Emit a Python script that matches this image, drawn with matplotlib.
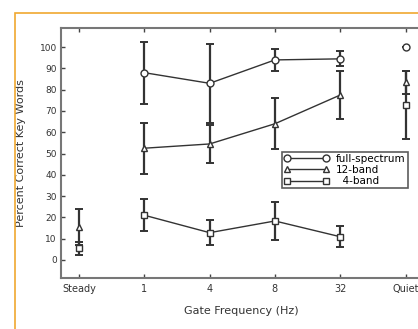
import numpy as np
import matplotlib
matplotlib.use("Agg")
import matplotlib.pyplot as plt
from matplotlib.patches import Rectangle

categories = ["Steady", "1", "4", "8", "32", "Quiet"]
full_mean = [np.nan, 88, 83, 94, 94.5, 100]
full_err = [np.nan, 14.5, 18.5, 5, 3.5, 0]
band12_mean = [15.6, 52.5, 54.5, 64, 77.5, 83.5]
band12_err = [8.5, 12, 9, 12, 11.5, 5.5]
band4_mean = [5.5, 21, 12.8, 18.3, 10.9, 73]
band4_err = [3, 7.5, 6, 9, 5, 16]
labels = ["full-spectrum", "12-band", "  4-band"]
markers = ["o", "^", "s"]

W, H = 418, 329
fig = plt.figure(figsize=(W / 100, H / 100), dpi=100)
ax = fig.add_axes([61 / W, (H - 278) / H, 361 / W, 250 / H])

col = "#333333"
x = np.arange(len(categories))
series = [(full_mean, full_err), (band12_mean, band12_err), (band4_mean, band4_err)]
handles = []
for (m, e), mk, lab in zip(series, markers, labels):
    m = np.array(m, float)
    e = np.array(e, float)
    ax.errorbar(x, m, yerr=e, fmt="none", ecolor=col, elinewidth=1.6,
                capsize=3, capthick=1.4, zorder=2)
    gated = slice(1, 5)
    ax.plot(x[gated], m[gated], color=col, lw=1.0, zorder=3)
    ax.plot(x, m, linestyle="none", marker=mk, ms=5, mfc="white",
            mec=col, mew=1.0, zorder=4)
    lh, = ax.plot([], [], color=col, lw=1.0, marker=mk, ms=5, mfc="white",
                  mec=col, mew=1.0, label=lab)
    handles.append(lh)

ax.set_xlim(-0.276, 5.252)
ax.set_ylim(-8.5, 109)
ax.set_xticks(x)
ax.set_xticklabels(categories, fontsize=7, color="#333333")
ax.set_yticks(np.arange(0, 101, 10))
ax.tick_params(axis="y", labelsize=6.5, direction="in", length=3, width=1,
               colors="#444444", labelcolor="#333333", pad=3)
ax.tick_params(axis="x", direction="in", length=3, width=1, top=True,
               colors="#444444", labelcolor="#333333", pad=4)
for s in ["left", "bottom", "top"]:
    ax.spines[s].set_color("#777777")
    ax.spines[s].set_linewidth(1.5)
ax.spines["right"].set_visible(False)

ax.set_xlabel("Gate Frequency (Hz)", fontsize=8, color="#333333", labelpad=9)
ax.set_ylabel("Percent Correct Key Words", fontsize=8, color="#333333", labelpad=10)

leg = ax.legend(handles=handles, loc="upper left",
                bbox_to_anchor=(282 / W, 1 - 152 / H), bbox_transform=fig.transFigure,
                numpoints=2, fontsize=7.5, frameon=True, fancybox=False,
                borderpad=0.2, labelspacing=0.1, handlelength=4.3,
                handletextpad=0.7, borderaxespad=0)
leg.get_frame().set_edgecolor("#333333")
leg.get_frame().set_linewidth(1.2)

fig.patches.append(Rectangle((15 / W, -0.05), 1.2, (H - 13) / H + 0.05,
                             transform=fig.transFigure, fill=False,
                             edgecolor="#F0A830", lw=1.2))

fig.savefig("out.png", dpi=100)
